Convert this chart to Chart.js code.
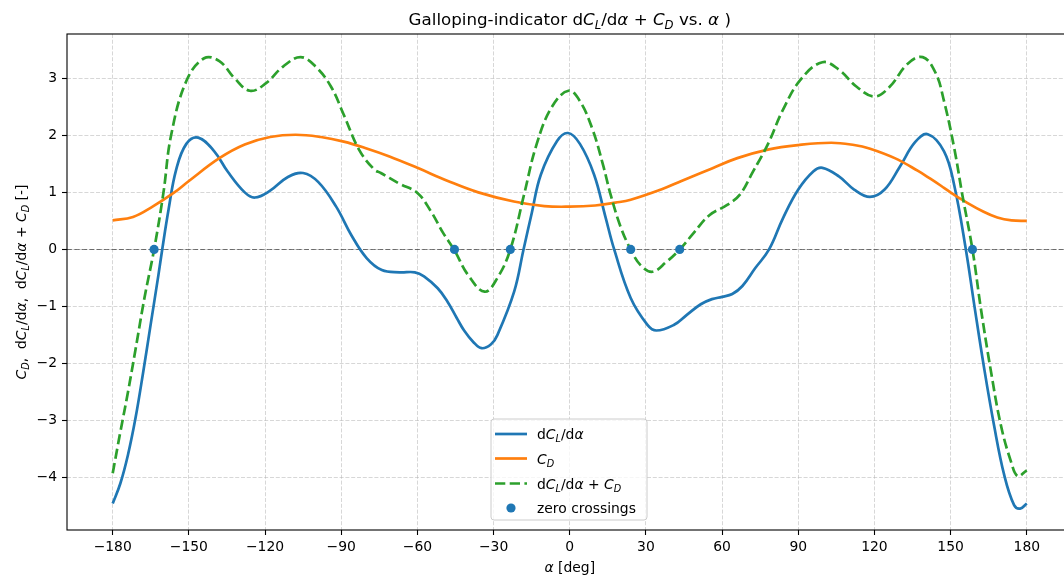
<!DOCTYPE html>
<html><head><meta charset="utf-8">
<script src="https://cdn.jsdelivr.net/npm/chart.js@4/dist/chart.umd.min.js"></script>
<style>html,body{margin:0;padding:0;overflow:hidden;background:#fff}canvas{display:block}</style>
</head><body>
<canvas id="c" width="1090" height="580" style="width:1090px;height:580px"></canvas>
<script>
// ---- data ----
const alphaBlue = [-180,-177,-174,-171,-168,-165,-162,-160.5,-158,-155,-151,-146.3,-140,-134.8,-128,-124,-118,-111,-105,-99,-92,-86,-80,-74,-67,-61,-57.4,-52,-48.2,-44.5,-41.6,-38,-34.7,-31,-28.5,-21.9,-18.2,-15,-11.4,-5,-0.7,4,9.6,14,17.5,24,30.6,34.1,41.1,46,51.6,56,60,64,68,73,78.5,84,90,96,99.5,106,112,118.2,124,130,136,141,147.4,151.4,156,159.3,163.2,167.1,171.1,175,177.4,180];
const dCLdAlpha = [-4.45,-4.1,-3.6,-2.95,-2.15,-1.3,-0.45,0.0,0.7,1.4,1.85,1.96,1.72,1.37,1.0,0.91,1.03,1.27,1.34,1.18,0.75,0.25,-0.15,-0.36,-0.40,-0.40,-0.47,-0.68,-0.91,-1.2,-1.42,-1.62,-1.73,-1.66,-1.5,-0.74,0.0,0.63,1.31,1.9,2.04,1.85,1.31,0.58,0.0,-0.85,-1.32,-1.42,-1.32,-1.15,-0.96,-0.87,-0.83,-0.78,-0.64,-0.33,0.0,0.55,1.05,1.37,1.43,1.28,1.05,0.92,1.05,1.45,1.88,2.02,1.72,1.13,0.0,-0.97,-2.08,-3.08,-3.95,-4.48,-4.54,-4.45];

const alphaCD = [-180,-172,-164,-156,-150,-138,-128,-118,-108,-98,-89,-80,-71,-60,-48,-36,-22,-10,0,10,18,24,36,44,51.6,56,66,78,90,103,112,118,128,137,142,147.4,151,155.3,163,168.4,174,180];
const cD = [0.51,0.57,0.76,0.99,1.2,1.6,1.84,1.97,2.01,1.97,1.89,1.77,1.63,1.43,1.2,1.0,0.84,0.76,0.75,0.77,0.82,0.87,1.05,1.2,1.34,1.42,1.6,1.75,1.83,1.87,1.83,1.77,1.6,1.38,1.24,1.08,0.97,0.85,0.66,0.56,0.51,0.5];

const alphaSum = [-180,-177,-174,-171,-167.5,-163.7,-160,-157,-151,-144,-138,-132,-126,-120,-113,-106,-100,-94,-89,-83,-77,-74.4,-67,-60,-54.7,-50,-45.6,-40,-33.5,-28.5,-23.4,-18,-13,-7,-0.5,4,9,13,16.1,20,24,28,32.6,38,43.3,49,55,62,67,72,78,84,91,99.5,106,113,120,126,133,139,144,147.4,151.4,154.6,158.6,161.9,165.9,169.8,173.8,176.4,180];
const galloping = [-3.92,-3.2,-2.5,-1.75,-0.85,0.0,1.0,2.0,2.95,3.35,3.3,3.0,2.78,2.9,3.2,3.37,3.2,2.85,2.36,1.75,1.4,1.34,1.15,0.99,0.67,0.3,0.0,-0.45,-0.74,-0.5,0.0,0.96,1.85,2.5,2.78,2.6,2.1,1.5,0.96,0.4,0.0,-0.28,-0.39,-0.22,0.0,0.3,0.6,0.78,0.96,1.35,1.84,2.45,2.98,3.28,3.15,2.85,2.68,2.85,3.25,3.37,3.1,2.6,1.78,0.96,0.0,-1.03,-2.14,-3.08,-3.72,-3.97,-3.87];

const zeroCrossings = [-163.7,-45.4,-23.4,24.0,43.3,158.6];

const xTicks = [-180,-150,-120,-90,-60,-30,0,30,60,90,120,150,180];
const yTicks = [-4,-3,-2,-1,0,1,2,3];

// ---- styling ----
const FONT = '"DejaVu Sans", "Liberation Sans", sans-serif';
const BLUE = '#1f77b4', ORANGE = '#ff7f0e', GREEN = '#2ca02c';
const LW = 2.7, GREEN_DASH = [10.3, 4.4];

function pts(xs, ys){ return xs.map((x,i)=>({x:x, y:ys[i]})); }
const fmt = v => (v < 0 ? '\u2212' + Math.abs(v) : String(v));

function drawRich(ctx, segs, x, y, size, align){
  const parts = segs.map(([t,f]) => {
    const sub = f.includes('s'), it = f.includes('i');
    const fs = sub ? size*0.7 : size;
    const font = (it ? 'italic ' : '') + fs + 'px ' + FONT;
    ctx.font = font;
    return {t, font, w: ctx.measureText(t).width, dy: sub ? size*0.22 : 0};
  });
  const total = parts.reduce((a,p)=>a+p.w,0);
  let cx = align === 'center' ? x - total/2 : x;
  ctx.textAlign = 'left'; ctx.textBaseline = 'alphabetic';
  parts.forEach(p => { ctx.font = p.font; ctx.fillText(p.t, cx, y + p.dy); cx += p.w; });
}

const titleSegs = [['Galloping-indicator ',''],['d',''],['C','i'],['L','is'],['/d',''],['\u03b1','i'],[' + ',''],['C','i'],['D','is'],[' vs. ',''],['\u03b1','i'],[' )','']];
const yLabelSegs = [['C','i'],['D','is'],[',  d',''],['C','i'],['L','is'],['/d',''],['\u03b1','i'],[',  d',''],['C','i'],['L','is'],['/d',''],['\u03b1','i'],[' + ',''],['C','i'],['D','is'],[' [-]','']];
const xLabelSegs = [['\u03b1','i'],[' [deg]','']];
const legendItems = [
  {segs:[['d',''],['C','i'],['L','is'],['/d',''],['\u03b1','i']], type:'line', color:BLUE, dash:[]},
  {segs:[['C','i'],['D','is']], type:'line', color:ORANGE, dash:[]},
  {segs:[['d',''],['C','i'],['L','is'],['/d',''],['\u03b1','i'],[' + ',''],['C','i'],['D','is']], type:'line', color:GREEN, dash:GREEN_DASH},
  {segs:[['zero crossings','']], type:'dot', color:BLUE}
];

const decor = {
  id:'decor',
  beforeDatasetsDraw(chart){
    const {ctx, chartArea:a, scales:{y}} = chart;
    const y0 = y.getPixelForValue(0);
    ctx.save();
    ctx.strokeStyle = 'rgba(0,0,0,0.5)';
    ctx.lineWidth = 1.1;
    ctx.setLineDash([5.2,2.2]);
    ctx.beginPath(); ctx.moveTo(a.left, y0); ctx.lineTo(a.right, y0); ctx.stroke();
    ctx.restore();
  },
  afterDraw(chart){
    const {ctx, chartArea:a} = chart;
    ctx.save();
    ctx.strokeStyle = '#000'; ctx.lineWidth = 1.1; ctx.setLineDash([]);
    ctx.strokeRect(a.left, a.top, a.right - a.left, a.bottom - a.top);
    ctx.fillStyle = '#000';
    drawRich(ctx, titleSegs, (a.left + a.right)/2, 25, 16.7, 'center');
    drawRich(ctx, xLabelSegs, (a.left + a.right)/2, 572, 13.9, 'center');
    ctx.save();
    ctx.translate(26, (a.top + a.bottom)/2);
    ctx.rotate(-Math.PI/2);
    drawRich(ctx, yLabelSegs, 0, 0, 13.9, 'center');
    ctx.restore();
    const bx = 491, by = 419, bw = 156, bh = 101;
    ctx.beginPath();
    ctx.roundRect(bx, by, bw, bh, 3);
    ctx.fillStyle = 'rgba(255,255,255,0.8)'; ctx.fill();
    ctx.strokeStyle = '#cccccc'; ctx.lineWidth = 1; ctx.stroke();
    const rows = [434, 458.5, 483.5, 508];
    legendItems.forEach((it, i) => {
      const ry = rows[i];
      if (it.type === 'line'){
        ctx.strokeStyle = it.color; ctx.lineWidth = LW; ctx.setLineDash(it.dash);
        ctx.beginPath(); ctx.moveTo(495, ry); ctx.lineTo(527, ry); ctx.stroke();
        ctx.setLineDash([]);
      } else {
        ctx.fillStyle = it.color;
        ctx.beginPath(); ctx.arc(511, ry, 4.6, 0, Math.PI*2); ctx.fill();
      }
      ctx.fillStyle = '#000';
      drawRich(ctx, it.segs, 537, ry + 5, 13.9, 'left');
    });
    ctx.restore();
  }
};

const lineBase = {pointRadius:0, pointHoverRadius:0, borderWidth:LW, tension:0.4, fill:false};

new Chart(document.getElementById('c'), {
  type:'line',
  data:{datasets:[
    Object.assign({label:'dC_L/dα', data:pts(alphaBlue, dCLdAlpha), borderColor:BLUE, order:3}, lineBase),
    Object.assign({label:'C_D', data:pts(alphaCD, cD), borderColor:ORANGE, order:2}, lineBase),
    Object.assign({label:'dC_L/dα + C_D', data:pts(alphaSum, galloping), borderColor:GREEN, borderDash:GREEN_DASH, order:1}, lineBase),
    {label:'zero crossings', type:'scatter', data:zeroCrossings.map(x=>({x:x, y:0})), showLine:false, pointRadius:4.6, pointBackgroundColor:BLUE, pointBorderWidth:0, backgroundColor:BLUE, borderColor:BLUE, order:0}
  ]},
  options:{
    responsive:false, animation:false, devicePixelRatio:1,
    layout:{padding:{left:0, right:17.5, top:34, bottom:0}},
    plugins:{legend:{display:false}, title:{display:false}, tooltip:{enabled:false}},
    scales:{
      x:{type:'linear', min:-198, max:198,
        afterBuildTicks: s => { s.ticks = xTicks.map(v=>({value:v})); },
        afterFit: s => { s.height = 50; },
        grid:{color:'rgba(176,176,176,0.5)', lineWidth:1, tickLength:5, tickColor:'#000', tickWidth:1.1},
        border:{display:false, dash:[4,1.8]},
        ticks:{font:{family:FONT, size:13.9}, color:'#000', padding:4, autoSkip:false, maxRotation:0, callback:fmt}
      },
      y:{type:'linear', min:-4.915, max:3.775,
        afterBuildTicks: s => { s.ticks = yTicks.map(v=>({value:v})); },
        afterFit: s => { s.width = 67; },
        grid:{color:'rgba(176,176,176,0.5)', lineWidth:1, tickLength:5, tickColor:'#000', tickWidth:1.1},
        border:{display:false, dash:[4,1.8]},
        ticks:{font:{family:FONT, size:13.9}, color:'#000', padding:5, callback:fmt}
      }
    }
  },
  plugins:[decor]
});
</script>
</body></html>
